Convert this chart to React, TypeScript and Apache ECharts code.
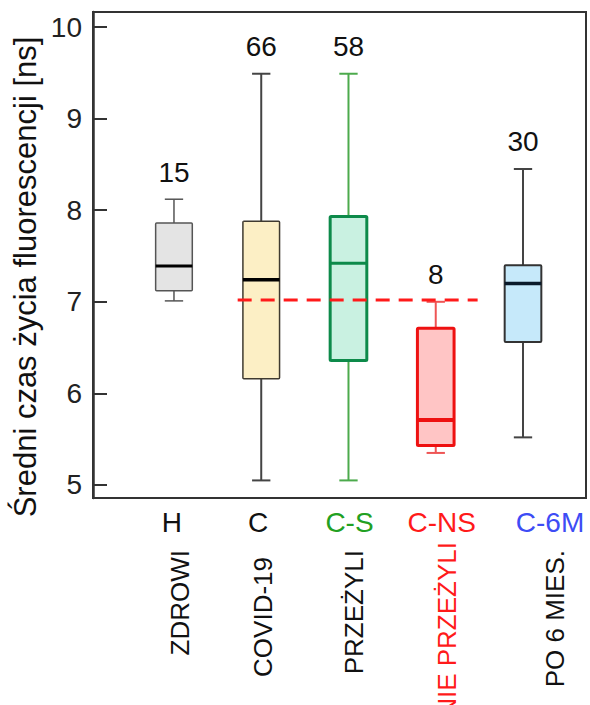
import React, { useEffect, useRef } from 'react';
import * as echarts from 'echarts';

// ---- data ----
const groupCodes = ['H', 'C', 'C-S', 'C-NS', 'C-6M'];
const groupNames = ['ZDROWI', 'COVID-19', 'PRZEŻYLI', 'NIE PRZEŻYLI', 'PO 6 MIES.'];
const sampleCounts = [15, 66, 58, 8, 30];
const whiskerLow = [7.01, 5.05, 5.05, 5.35, 5.52];
const quartile1 = [7.12, 6.16, 6.36, 5.43, 6.56];
const medians = [7.39, 7.24, 7.42, 5.71, 7.2];
const quartile3 = [7.86, 7.88, 7.93, 6.71, 7.4];
const whiskerHigh = [8.12, 9.49, 9.49, 7.0, 8.45];
const referenceLevel = 7.02;
const referenceSpan = [0.73, 3.48];
const yTickValues = [5, 6, 7, 8, 9, 10];
const yTitle = 'Średni czas życia fluorescencji [ns]';

// ---- styles ----
const FONT = "'Liberation Sans', Arial, Helvetica, sans-serif";
const codeColors = ['#111111', '#111111', '#22a022', '#ff1a1a', '#3d4cf5'];
const nameColors = ['#111111', '#111111', '#111111', '#ff1a1a', '#111111'];
const boxFills = ['#e4e4e4', '#fcefc5', '#c9f1e1', '#ffc5c5', '#c6e9fa'];
const boxBorders = ['#555555', '#3f3a30', '#0d8a4a', '#ee1111', '#333333'];
const boxBorderW = [1.5, 1.5, 3, 3, 2];
const medianColors = ['#000000', '#000000', '#0d8a4a', '#ee1111', '#0a1a2a'];
const medianW = [3, 3.5, 3, 4, 3.5];
const whiskerColors = ['#555555', '#444444', '#4caa4c', '#ee5555', '#444444'];
const whiskerW = [1.5, 2, 2, 2, 2];
const codeShift = [-2, -3, 1, 6, 27];
const nameShift = [6, 2, 6, 11, 32];
const nameTop = [550, 557, 550, 542, 550];

export default function App() {
  const ref = useRef<HTMLDivElement>(null);
  useEffect(() => {
    if (!ref.current) return;
    const chart = echarts.init(ref.current, undefined, { renderer: 'svg' });
    const boxData = groupCodes.map((_, i) => [
      i,
      whiskerLow[i],
      quartile1[i],
      medians[i],
      quartile3[i],
      whiskerHigh[i],
    ]);
    const option: any = {
      animation: false,
      backgroundColor: '#ffffff',
      grid: {
        left: 93,
        right: 4,
        top: 12,
        bottom: 207,
        show: true,
        borderColor: '#333333',
        borderWidth: 2,
      },
      xAxis: {
        type: 'value',
        min: -0.928,
        max: 4.722,
        show: false,
      },
      yAxis: {
        type: 'value',
        min: 4.858,
        max: 10.164,
        splitNumber: 5,
        axisLine: { show: true, onZero: false, lineStyle: { color: '#333', width: 2.5 } },
        axisTick: { show: true, inside: true, length: 14, lineStyle: { color: '#333', width: 2 } },
        splitLine: { show: false },
        axisLabel: {
          fontSize: 28,
          color: '#222',
          fontFamily: FONT,
          margin: 11,
          formatter: (v: number) => (yTickValues.includes(Math.round(v * 1000) / 1000) ? String(Math.round(v)) : ''),
        },
      },
      series: [
        {
          type: 'custom',
          data: boxData,
          encode: { x: 0, y: [1, 2, 3, 4, 5] },
          renderItem: (params: any, api: any) => {
            const i = params.dataIndex;
            const x = api.value(0);
            const p = (v: number) => api.coord([x, v]);
            const cx = p(api.value(1))[0];
            const yLow = p(api.value(1))[1];
            const yQ1 = p(api.value(2))[1];
            const yMed = p(api.value(3))[1];
            const yQ3 = p(api.value(4))[1];
            const yHigh = p(api.value(5))[1];
            const unit = api.size([1, 0])[0];
            const half = unit * 0.21;
            const cap = unit * 0.105;
            const wStyle = { stroke: whiskerColors[i], lineWidth: whiskerW[i] };
            return {
              type: 'group',
              children: [
                { type: 'line', shape: { x1: cx, y1: yQ1, x2: cx, y2: yLow }, style: wStyle },
                { type: 'line', shape: { x1: cx - cap, y1: yLow, x2: cx + cap, y2: yLow }, style: wStyle },
                { type: 'line', shape: { x1: cx, y1: yQ3, x2: cx, y2: yHigh }, style: wStyle },
                { type: 'line', shape: { x1: cx - cap, y1: yHigh, x2: cx + cap, y2: yHigh }, style: wStyle },
                {
                  type: 'rect',
                  shape: { x: cx - half, y: yQ3, width: half * 2, height: yQ1 - yQ3, r: 1 },
                  style: { fill: boxFills[i], stroke: boxBorders[i], lineWidth: boxBorderW[i] },
                },
                {
                  type: 'line',
                  shape: { x1: cx - half, y1: yMed, x2: cx + half, y2: yMed },
                  style: { stroke: medianColors[i], lineWidth: medianW[i] },
                },
                {
                  type: 'text',
                  x: cx,
                  y: yHigh - 27,
                  style: {
                    text: String(sampleCounts[i]),
                    fill: '#111',
                    fontSize: 28,
                    fontFamily: FONT,
                    align: 'center',
                    verticalAlign: 'middle',
                  },
                },
              ],
            };
          },
          z: 2,
        },
        {
          type: 'line',
          data: [
            [referenceSpan[0], referenceLevel],
            [referenceSpan[1], referenceLevel],
          ],
          symbol: 'none',
          lineStyle: { color: '#ff1a1a', width: 3, type: [14, 9] },
          z: 3,
        },
      ],
    };
    chart.setOption(option);

    const graphics: any[] = [
      {
        type: 'text',
        x: 25,
        y: 277,
        rotation: Math.PI / 2,
        style: {
          text: yTitle,
          fill: '#111',
          fontSize: 31,
          fontFamily: FONT,
          align: 'center',
          verticalAlign: 'middle',
        },
      },
    ];
    groupCodes.forEach((code, i) => {
      const px = chart.convertToPixel({ xAxisIndex: 0 }, i) as number;
      graphics.push({
        type: 'text',
        x: px + codeShift[i],
        y: 522,
        style: {
          text: code,
          fill: codeColors[i],
          fontSize: 28,
          fontFamily: FONT,
          align: 'center',
          verticalAlign: 'middle',
        },
      });
      graphics.push({
        type: 'text',
        x: px + nameShift[i],
        y: nameTop[i],
        rotation: Math.PI / 2,
        style: {
          text: groupNames[i],
          fill: nameColors[i],
          fontSize: 26,
          fontFamily: FONT,
          align: 'right',
          verticalAlign: 'middle',
        },
      });
    });
    chart.setOption({ graphic: graphics });

    return () => chart.dispose();
  }, []);
  return (
    <div
      ref={ref}
      style={{ position: 'fixed', left: 0, top: 0, width: 590, height: 705, background: '#fff' }}
    />
  );
}
